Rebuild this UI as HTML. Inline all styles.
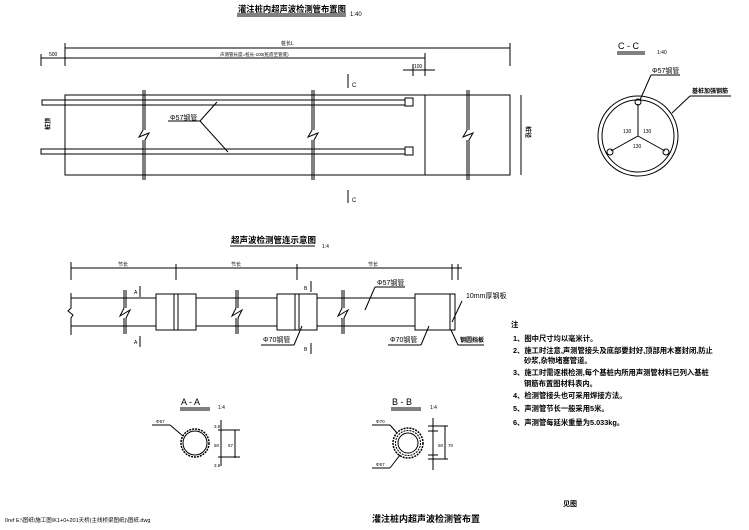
<!DOCTYPE html>
<html><head><meta charset="utf-8"><style>
html,body{margin:0;padding:0;background:#fff;}
svg{display:block;}
text{font-family:"Liberation Sans","Noto Sans CJK SC",sans-serif;fill:#000;}
.b{font-weight:bold;}
</style></head><body>
<svg width="749" height="530" viewBox="0 0 749 530" xmlns="http://www.w3.org/2000/svg" stroke="#000" fill="none" stroke-width="1">
<!-- Top title -->
<text x="238" y="12" font-size="8.3" class="b" stroke="none">灌注桩内超声波检测管布置图</text>
<line x1="237" y1="14" x2="346" y2="14"/><line x1="237" y1="16" x2="346" y2="16"/>
<text x="350" y="16" font-size="6" stroke="none">1:40</text>
<!-- dims -->
<line x1="65" y1="48" x2="510" y2="48"/>
<line x1="65" y1="43" x2="65" y2="66"/><line x1="510" y1="43" x2="510" y2="66"/>
<text x="281" y="45" font-size="5" stroke="none">桩长L</text>
<line x1="41" y1="58" x2="425" y2="58"/>
<line x1="41" y1="54" x2="41" y2="66"/><line x1="425" y1="53" x2="425" y2="76"/>
<text x="49" y="56" font-size="5" stroke="none">500</text>
<text x="220" y="56" font-size="4.5" stroke="none">声测管长度=桩长-100(桩底至管底)</text>
<line x1="403" y1="70" x2="435" y2="70"/><line x1="413" y1="64" x2="413" y2="76"/>
<text x="414" y="68" font-size="5" stroke="none">100</text>
<!-- C marks -->
<line x1="348" y1="74" x2="348" y2="88"/><text x="352" y="87" font-size="6" stroke="none">C</text>
<line x1="348" y1="190" x2="348" y2="203"/><text x="352" y="202" font-size="6" stroke="none">C</text>
<!-- pile body -->
<rect x="65" y="95" width="445" height="80"/>
<line x1="425" y1="95" x2="425" y2="175"/>
<!-- pipes -->
<rect x="42" y="100" width="363" height="5"/><rect x="405" y="98" width="8" height="8"/>
<rect x="41" y="149" width="364" height="5"/><rect x="405" y="147" width="8" height="8"/>
<!-- break lines -->
<g fill="#fff">
<path d="M143 90 V130 L139 137 L149 133 L145 140 V180"/>
<path d="M312 90 V130 L308 137 L318 133 L314 140 V180"/>
<path d="M467 90 V130 L463 137 L473 133 L469 140 V180"/>
</g>
<path d="M145 90 V130 M143 140 V180 M314 90 V130 M312 140 V180 M469 90 V130 M467 140 V180"/>
<!-- label -->
<text x="170" y="120" font-size="7" stroke="none">Φ57钢管</text>
<line x1="168" y1="121" x2="200" y2="121"/>
<line x1="200" y1="121" x2="217" y2="102"/><line x1="200" y1="121" x2="228" y2="152"/>
<text x="58" y="122" font-size="6" class="b" stroke="none" transform="rotate(-90 58 130)">桩顶</text>
<line x1="521" y1="95" x2="521" y2="175"/>
<text x="517" y="125" font-size="6" class="b" stroke="none" transform="rotate(90 521 130)">桩径</text>
<!-- C-C -->
<text x="618" y="49" font-size="9" stroke="none">C - C</text>
<line x1="617" y1="52" x2="645" y2="52"/><line x1="617" y1="54" x2="645" y2="54"/>
<text x="657" y="54" font-size="5" stroke="none">1:40</text>
<circle cx="638" cy="136" r="40"/><circle cx="638" cy="136" r="36"/>
<line x1="638" y1="136" x2="638" y2="104"/><line x1="638" y1="136" x2="611" y2="151"/><line x1="638" y1="136" x2="665" y2="151"/>
<circle cx="638" cy="102" r="3"/><circle cx="610" cy="152" r="3"/><circle cx="666" cy="152" r="3"/>
<text x="623" y="133" font-size="5" stroke="none">130</text><text x="643" y="133" font-size="5" stroke="none">130</text><text x="633" y="148" font-size="5" stroke="none">130</text>
<text x="652" y="73" font-size="7" stroke="none">Φ57钢管</text><line x1="651" y1="75" x2="680" y2="75"/>
<line x1="651" y1="75" x2="640" y2="100"/>
<text x="692" y="93" font-size="6" class="b" stroke="none">基桩加强钢筋</text><line x1="690" y1="96" x2="731" y2="96"/>
<line x1="690" y1="96" x2="672" y2="113"/>
<!-- Middle title -->
<text x="231" y="243" font-size="8.5" class="b" stroke="none">超声波检测管连示意图</text>
<line x1="230" y1="246" x2="315" y2="246"/>
<text x="322" y="248" font-size="5" stroke="none">1:4</text>
<line x1="71" y1="268" x2="462" y2="268"/>
<line x1="71" y1="262" x2="71" y2="280"/><line x1="176" y1="264" x2="176" y2="280"/><line x1="297" y1="264" x2="297" y2="280"/><line x1="452" y1="264" x2="452" y2="280"/><line x1="458" y1="264" x2="458" y2="280"/>
<text x="118" y="266" font-size="5" stroke="none">节长</text><text x="231" y="266" font-size="5" stroke="none">节长</text><text x="368" y="266" font-size="5" stroke="none">节长</text>
<line x1="71" y1="298" x2="455" y2="298"/><line x1="71" y1="326" x2="455" y2="326"/>
<path d="M71 293 V308 L68 311 L73 315 L71 318 V335"/>
<g fill="#fff">
<path d="M124 290 V308 L120 316 L130 310 L126 318 V334"/>
<path d="M236 290 V308 L232 316 L242 310 L238 318 V334"/>
<path d="M342 290 V308 L338 316 L348 310 L344 318 V334"/>
</g>
<path d="M126 290 V308 M124 318 V334 M238 290 V308 M236 318 V334 M344 290 V308 M342 318 V334"/>
<rect x="156" y="294" width="40" height="36" fill="#fff"/><line x1="174" y1="294" x2="174" y2="330"/><line x1="178" y1="294" x2="178" y2="330"/>
<rect x="277" y="294" width="40" height="36" fill="#fff"/><line x1="295" y1="294" x2="295" y2="330"/><line x1="299" y1="294" x2="299" y2="330"/>
<rect x="415" y="294" width="40" height="36" fill="#fff"/><line x1="450" y1="294" x2="450" y2="330"/>
<line x1="140" y1="286" x2="140" y2="297"/><text x="134" y="294" font-size="5" stroke="none">A</text>
<line x1="140" y1="336" x2="140" y2="347"/><text x="134" y="344" font-size="5" stroke="none">A</text>
<line x1="311" y1="281" x2="311" y2="292"/><text x="304" y="290" font-size="5" stroke="none">B</text>
<line x1="311" y1="343" x2="311" y2="354"/><text x="304" y="351" font-size="5" stroke="none">B</text>
<text x="377" y="285" font-size="7" stroke="none">Φ57钢管</text><line x1="375" y1="287" x2="405" y2="287"/><line x1="375" y1="287" x2="365" y2="310"/>
<text x="466" y="298" font-size="7" stroke="none">10mm厚钢板</text><line x1="462" y1="301" x2="452" y2="322"/>
<text x="263" y="342" font-size="7" stroke="none">Φ70钢管</text><line x1="261" y1="345" x2="294" y2="345"/><line x1="294" y1="345" x2="302" y2="326"/>
<text x="390" y="342" font-size="7" stroke="none">Φ70钢管</text><line x1="388" y1="345" x2="421" y2="345"/><line x1="421" y1="345" x2="429" y2="326"/>
<text x="460" y="342" font-size="6" class="b" stroke="none">钢圆挡板</text><line x1="458" y1="345" x2="484" y2="345"/><line x1="458" y1="345" x2="451" y2="330"/>
<!-- notes -->
<g font-size="7.3" class="b" stroke="none">
<text x="511" y="327">注</text>
<text x="513" y="341">1、图中尺寸均以毫米计。</text>
<text x="513" y="353">2、施工时注意,声测管接头及底部要封好,顶部用木塞封闭,防止</text>
<text x="524" y="363">砂浆,杂物堵塞管道。</text>
<text x="513" y="375">3、施工时需逐根检测,每个基桩内所用声测管材料已列入基桩</text>
<text x="524" y="386">钢筋布置图材料表内。</text>
<text x="513" y="398">4、检测管接头也可采用焊接方法。</text>
<text x="513" y="411">5、声测管节长一般采用5米。</text>
<text x="513" y="425">6、声测管每延米重量为5.033kg。</text>
</g>
<!-- A-A -->
<text x="181" y="405" font-size="9" stroke="none">A - A</text>
<line x1="180" y1="408" x2="210" y2="408"/><line x1="180" y1="410" x2="210" y2="410"/>
<text x="218" y="409" font-size="5" stroke="none">1:4</text>
<circle cx="195" cy="443" r="14" stroke-dasharray="2 1" stroke-width="1.5"/><circle cx="195" cy="443" r="12"/>
<line x1="152" y1="425" x2="170" y2="425"/><line x1="170" y1="425" x2="183" y2="436"/>
<text x="156" y="423" font-size="4.5" stroke="none">Φ57</text>
<line x1="221" y1="420" x2="221" y2="466"/><line x1="235" y1="430" x2="235" y2="458"/>
<line x1="218" y1="430" x2="240" y2="430"/><line x1="218" y1="457" x2="240" y2="457"/>
<text x="214" y="428" font-size="4.5" stroke="none">3.5</text><text x="214" y="447" font-size="4.5" stroke="none">50</text><text x="228" y="447" font-size="4.5" stroke="none">57</text><text x="214" y="467" font-size="4.5" stroke="none">3.5</text>
<!-- B-B -->
<text x="392" y="405" font-size="9" stroke="none">B - B</text>
<line x1="391" y1="408" x2="421" y2="408"/><line x1="391" y1="410" x2="421" y2="410"/>
<text x="430" y="409" font-size="5" stroke="none">1:4</text>
<circle cx="408" cy="443" r="15" stroke-dasharray="2 1" stroke-width="1.5"/><circle cx="408" cy="443" r="12.5" stroke-dasharray="2 1"/><circle cx="408" cy="443" r="10"/>
<line x1="372" y1="425" x2="390" y2="425"/><line x1="390" y1="425" x2="397" y2="433"/>
<text x="376" y="423" font-size="4.5" stroke="none">Φ70</text>
<line x1="372" y1="468" x2="390" y2="468"/><line x1="390" y1="468" x2="400" y2="455"/>
<text x="376" y="466" font-size="4.5" stroke="none">Φ57</text>
<line x1="433" y1="418" x2="433" y2="470"/><line x1="445" y1="426" x2="445" y2="459"/>
<line x1="428" y1="426" x2="448" y2="426"/><line x1="428" y1="431" x2="438" y2="431"/><line x1="428" y1="455" x2="438" y2="455"/><line x1="428" y1="459" x2="448" y2="459"/>
<text x="438" y="447" font-size="4.5" stroke="none">50</text><text x="448" y="447" font-size="4.5" stroke="none">70</text>
<!-- bottom -->
<text x="563" y="506" font-size="7" class="b" stroke="none">见图</text>
<text x="372" y="522" font-size="9" class="b" stroke="none">灌注桩内超声波检测管布置</text>
<text x="5" y="522" font-size="5.5" stroke="none">0ref E:\图纸\施工图\K1+0+201天桥(主线桥梁图纸)\图纸.dwg</text>
</svg>
</body></html>
